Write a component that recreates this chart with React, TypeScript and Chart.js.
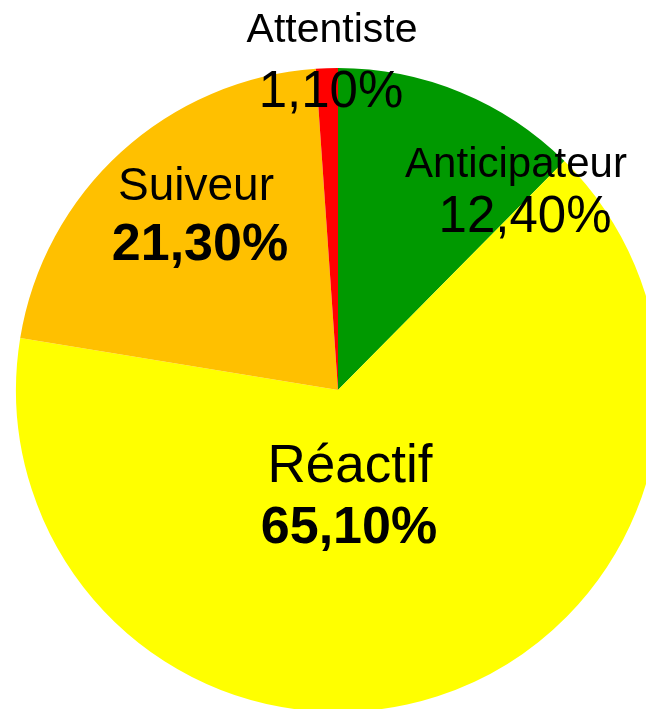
import React, { useEffect, useRef } from "react";
import { Chart, registerables } from "chart.js";

Chart.register(...registerables);

const categories = ["Anticipateur", "Réactif", "Suiveur", "Attentiste"];
const values = [12.4, 65.1, 21.3, 1.1];
const valueLabels = ["12,40%", "65,10%", "21,30%", "1,10%"];
const colors = ["#009900", "#FFFF00", "#FFC000", "#FF0000"];

// label layout: offsets from pie centre (px), font sizes, bold flag for percentage
const nameOffsets = [
  [178, -213],
  [12, 92],
  [-142, -190],
  [-6, -348],
];
const pctOffsets = [
  [187, -158],
  [11, 153],
  [-138, -130],
  [-7, -283],
];
const nameSizes = [42, 53, 46, 41];
const pctSizes = [51, 52, 52, 51];
const pctBold = [false, true, true, false];

const FONT = '"Liberation Sans", Arial, Helvetica, sans-serif';

const labelPlugin = {
  id: "sliceLabels",
  afterDatasetsDraw(chart: any) {
    const meta = chart.getDatasetMeta(0);
    const ctx = chart.ctx;
    ctx.save();
    ctx.fillStyle = "#000000";
    ctx.textAlign = "center";
    ctx.textBaseline = "alphabetic";
    meta.data.forEach((arc: any, i: number) => {
      const cx = arc.x;
      const cy = arc.y;
      ctx.font = `normal ${nameSizes[i]}px ${FONT}`;
      ctx.fillText(categories[i], cx + nameOffsets[i][0], cy + nameOffsets[i][1]);
      ctx.font = `${pctBold[i] ? "bold" : "normal"} ${pctSizes[i]}px ${FONT}`;
      ctx.fillText(valueLabels[i], cx + pctOffsets[i][0], cy + pctOffsets[i][1]);
    });
    ctx.restore();
  },
};

export default function App() {
  const ref = useRef<HTMLCanvasElement | null>(null);
  useEffect(() => {
    document.body.style.margin = "0";
    if (!ref.current) return;
    const chart = new Chart(ref.current, {
      type: "pie",
      data: {
        labels: categories,
        datasets: [
          {
            data: values,
            backgroundColor: colors,
            borderWidth: 0,
            clip: false,
          } as any,
        ],
      },
      options: {
        animation: false,
        responsive: false,
        radius: 322,
        layout: { padding: { left: 30, top: 71, right: 0, bottom: 0 } },
        plugins: {
          legend: { display: false },
          tooltip: { enabled: false },
        },
      } as any,
      plugins: [labelPlugin],
    });
    return () => chart.destroy();
  }, []);
  return (
    <div style={{ position: "absolute", left: 0, top: 0, width: 646, height: 709, overflow: "hidden", background: "#fff" }}>
      <canvas ref={ref} width={646} height={709} style={{ width: 646, height: 709, display: "block" }} />
    </div>
  );
}
